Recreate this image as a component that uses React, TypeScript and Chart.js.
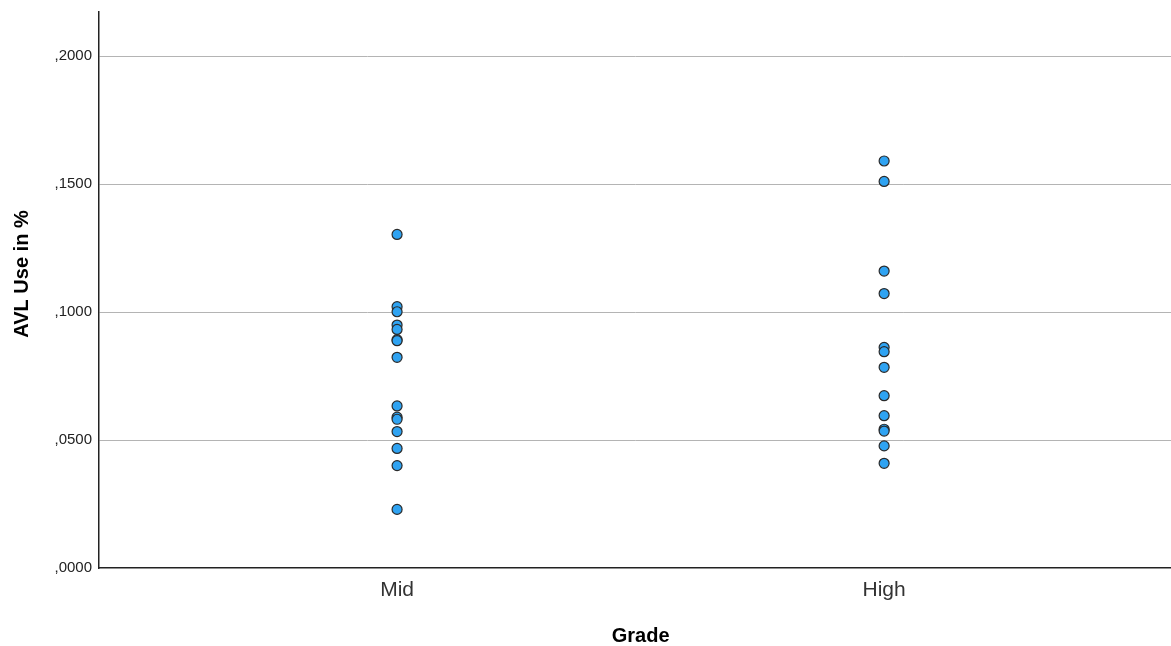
import React, { useEffect, useRef } from "react";
import { Chart, registerables } from "chart.js";

Chart.register(...registerables);

const categories = ["Mid", "High"];
const midValues = [0.1303, 0.1021, 0.1001, 0.0949, 0.0932, 0.0892, 0.0888, 0.0823, 0.0633, 0.0589, 0.0581, 0.0533, 0.0467, 0.04, 0.0229];
const highValues = [0.159, 0.151, 0.116, 0.1072, 0.0862, 0.0845, 0.0784, 0.0673, 0.0595, 0.0542, 0.0535, 0.0477, 0.0409];
const yTicks = [0, 0.05, 0.1, 0.15, 0.2];
const xTitle = "Grade";
const yTitle = "AVL Use in %";

const FONT = "'Liberation Sans', Arial, sans-serif";

const axisTitles = {
  id: "axisTitles",
  afterDraw(chart: any) {
    const ctx = chart.ctx;
    const area = chart.chartArea;
    ctx.save();
    ctx.fillStyle = "#000";
    ctx.font = `bold 20px ${FONT}`;
    ctx.textAlign = "center";
    ctx.textBaseline = "middle";
    const xs = chart.scales.x;
    const midX = (xs.getPixelForValue(1) + xs.getPixelForValue(2)) / 2;
    ctx.fillText(xTitle, midX, 636);
    ctx.translate(22, (area.top + area.bottom) / 2 - 16);
    ctx.rotate(-Math.PI / 2);
    ctx.fillText(yTitle, 0, 0);
    ctx.restore();
  },
};

export default function App() {
  const ref = useRef<HTMLCanvasElement>(null);
  useEffect(() => {
    if (!ref.current) return;
    const points = [
      ...midValues.map((v) => ({ x: 1, y: v })),
      ...highValues.map((v) => ({ x: 2, y: v })),
    ];
    const chart = new Chart(ref.current, {
      type: "scatter",
      data: {
        datasets: [
          {
            data: points,
            backgroundColor: "#2fa3f2",
            borderColor: "#2a2a2a",
            borderWidth: 1.2,
            pointRadius: 5,
            pointHoverRadius: 5,
          },
        ],
      },
      plugins: [axisTitles],
      options: {
        responsive: false,
        animation: false,
        layout: { autoPadding: false, padding: { top: 12, left: 0, right: 0, bottom: 0 } },
        plugins: { legend: { display: false }, tooltip: { enabled: false } },
        scales: {
          x: {
            type: "linear",
            min: 0.388,
            max: 2.589,
            afterBuildTicks: (s: any) => {
              s.ticks = [{ value: 1 }, { value: 2 }];
            },
            afterFit: (s: any) => {
              s.height = 78;
              s.paddingLeft = 0;
              s.paddingRight = 0;
            },
            grid: { display: false, drawTicks: false },
            border: { display: true, color: "#222", width: 1.5 },
            ticks: {
              padding: 10,
              color: "#333",
              font: { family: FONT, size: 21 },
              callback: (v: any) => categories[Number(v) - 1] ?? "",
            },
          },
          y: {
            type: "linear",
            min: 0,
            max: 0.2172,
            afterBuildTicks: (s: any) => {
              s.ticks = yTicks.map((v) => ({ value: v }));
            },
            afterFit: (s: any) => {
              s.width = 99;
              s.paddingTop = 0;
              s.paddingBottom = 0;
            },
            grid: {
              drawTicks: false,
              color: (c: any) => (c.tick && c.tick.value === 0 ? "rgba(0,0,0,0)" : "#b4b4b4"),
              lineWidth: 1,
            },
            border: { display: true, color: "#222", width: 1.5 },
            ticks: {
              padding: 7,
              color: "#222",
              font: { family: FONT, size: 15 },
              callback: (v: any) => Number(v).toFixed(4).replace(/^0\./, ","),
            },
          },
        },
      },
    });
    return () => chart.destroy();
  }, []);
  return (
    <div style={{ position: "fixed", left: 0, top: 0, width: 1171, height: 646, background: "#fff" }}>
      <canvas ref={ref} width={1171} height={646} style={{ display: "block" }} />
    </div>
  );
}
